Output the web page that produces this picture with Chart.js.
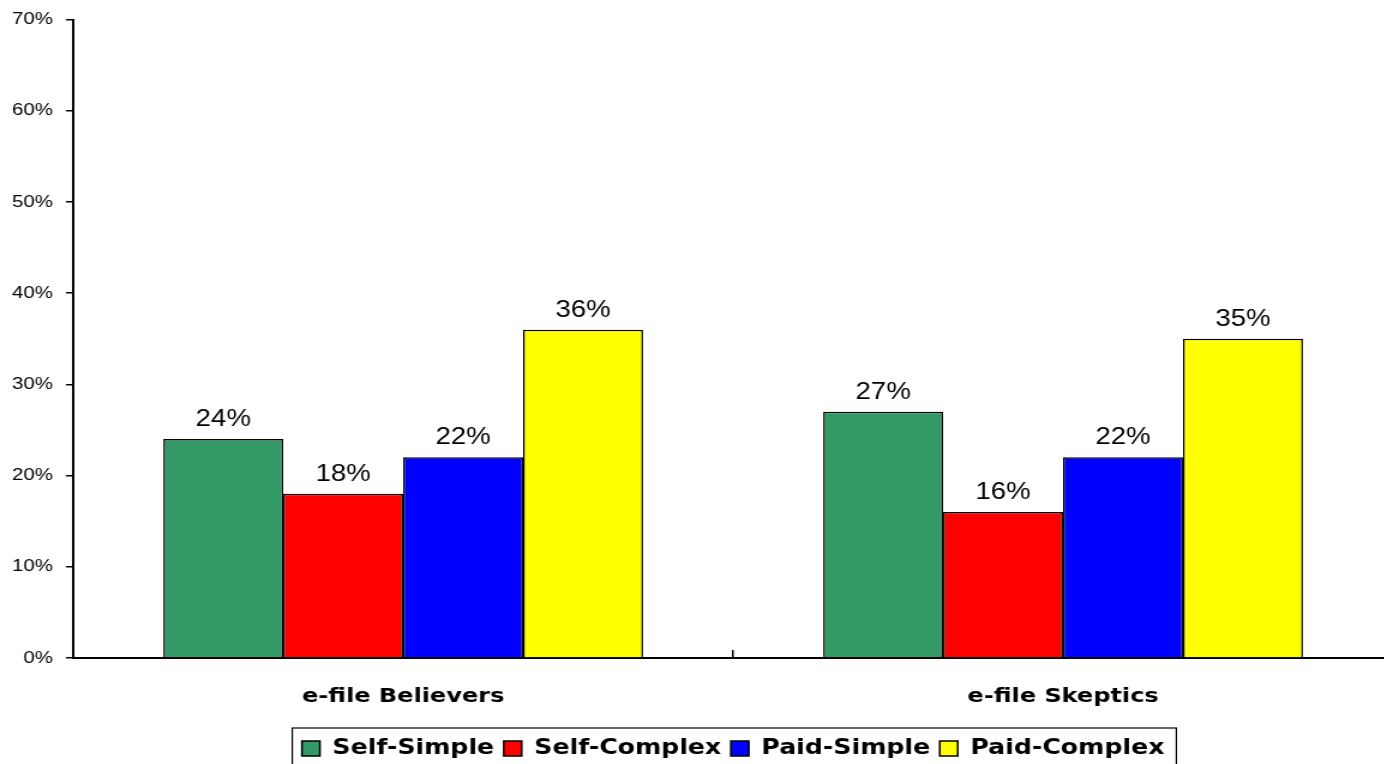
<!DOCTYPE html>
<html>
<head>
<meta charset="utf-8">
<script src="https://cdn.jsdelivr.net/npm/chart.js@4/dist/chart.umd.min.js"></script>
<style>
  html, body { margin: 0; padding: 0; background: #fff; overflow: hidden; }
  #wrap { width: 1384px; height: 764px; overflow: hidden; }
</style>
</head>
<body>
<div id="wrap">
  <canvas id="grafica" width="1161" height="764" style="width:1393px;height:764px"></canvas>
</div>
<script>
const categorias = ['e-file Believers', 'e-file Skeptics'];
const selfSimple = [24, 27];
const selfComplex = [18, 16];
const paidSimple = [22, 22];
const paidComplex = [36, 35];
const ticksY = [0, 10, 20, 30, 40, 50, 60, 70];

// percentage printed above every bar
const valueLabels = {
  id: 'valueLabels',
  afterDatasetsDraw(chart) {
    const ctx = chart.ctx;
    ctx.save();
    ctx.font = '23px "Liberation Sans", Arial, sans-serif';
    ctx.fillStyle = '#000';
    ctx.textAlign = 'center';
    ctx.textBaseline = 'alphabetic';
    chart.data.datasets.forEach((ds, i) => {
      chart.getDatasetMeta(i).data.forEach((bar, j) => {
        ctx.fillText(ds.data[j] + '%', bar.x, bar.y - 13);
      });
    });
    ctx.restore();
  }
};

// thin frame around the legend items
const legendFrame = {
  id: 'legendFrame',
  afterDraw(chart) {
    const boxes = chart.legend && chart.legend.legendHitBoxes;
    if (!boxes || !boxes.length) return;
    const left = Math.min(...boxes.map(b => b.left)) - 8;
    const right = Math.max(...boxes.map(b => b.left + b.width)) + 10;
    const top = Math.min(...boxes.map(b => b.top)) - 10;
    const ctx = chart.ctx;
    ctx.save();
    ctx.strokeStyle = '#000';
    ctx.lineWidth = 1.2;
    ctx.strokeRect(left, top, right - left, chart.height - top + 5);
    ctx.restore();
  }
};

const serie = (label, data, color) => ({
  label,
  data,
  backgroundColor: color,
  borderColor: '#000',
  borderWidth: 1.5,
  categoryPercentage: 0.727,
  barPercentage: 1
});

const ctx = document.getElementById('grafica').getContext('2d');
new Chart(ctx, {
  type: 'bar',
  data: {
    labels: categorias,
    datasets: [
      serie('Self-Simple', selfSimple, '#339966'),
      serie('Self-Complex', selfComplex, '#ff0000'),
      serie('Paid-Simple', paidSimple, '#0000ff'),
      serie('Paid-Complex', paidComplex, '#ffff00')
    ]
  },
  options: {
    responsive: false,
    devicePixelRatio: 1,
    animation: false,
    layout: { padding: { left: -1, top: 8, right: 0, bottom: -5 } },
    plugins: {
      tooltip: { enabled: false },
      legend: {
        position: 'bottom',
        fullSize: false,
        labels: {
          boxWidth: 15,
          boxHeight: 15,
          padding: 8,
          color: '#000',
          font: { family: '"DejaVu Sans", Verdana, sans-serif', size: 21, weight: 'bold' }
        }
      }
    },
    scales: {
      x: {
        offset: true,
        afterFit: axis => { axis.height -= 14; },
        grid: { offset: true, drawOnChartArea: false, drawTicks: true, tickLength: -8, color: '#000', lineWidth: 1.5 },
        border: { color: '#000', width: 2 },
        ticks: {
          color: '#000',
          padding: 35,
          font: { family: '"DejaVu Sans", Verdana, sans-serif', size: 20, weight: 'bold' }
        }
      },
      y: {
        min: 0,
        max: 70,
        afterBuildTicks: axis => { axis.ticks = ticksY.map(v => ({ value: v })); },
        grid: { drawOnChartArea: false, tickLength: 6, color: '#000', lineWidth: 1.5 },
        border: { color: '#000', width: 2 },
        ticks: {
          color: '#000',
          padding: 11,
          callback: v => v + '%',
          font: { family: '"Liberation Sans", Arial, sans-serif', size: 17, lineHeight: 1 }
        }
      }
    }
  },
  plugins: [valueLabels, legendFrame]
});
</script>
</body>
</html>
